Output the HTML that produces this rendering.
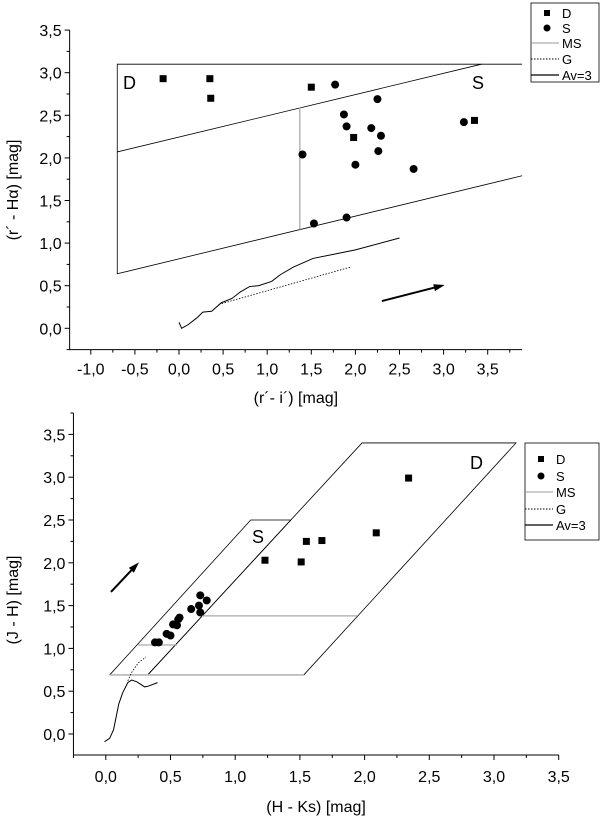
<!DOCTYPE html>
<html><head><meta charset="utf-8">
<style>
body{margin:0;background:#fff;}
svg{display:block;font-family:"Liberation Sans",sans-serif;}
</style></head>
<body>
<svg id="fig" width="600" height="818" viewBox="0 0 600 818"></svg>
<script>
// ---- top chart data ----
const topXTicks = [-1.0,-0.5,0.0,0.5,1.0,1.5,2.0,2.5,3.0,3.5];
const topYTicks = [0.0,0.5,1.0,1.5,2.0,2.5,3.0,3.5];
const topDX = [-0.18,0.35,0.36,1.5,1.98,3.35];
const topDY = [2.93,2.93,2.7,2.83,2.24,2.44];
const topSX = [1.77,1.87,1.9,2.25,2.18,2.29,1.4,2.26,2.0,2.66,3.23,1.53,1.9];
const topSY = [2.86,2.51,2.37,2.69,2.35,2.26,2.04,2.08,1.92,1.87,2.42,1.23,1.3];
const topAvX = [0,0.03,0.1,0.2,0.27,0.37,0.48,0.6,0.7,0.8,0.9,1.05,1.15,1.3,1.52,2.0,2.5];
const topAvY = [0.07,0.0,0.04,0.12,0.19,0.2,0.3,0.35,0.43,0.49,0.5,0.55,0.63,0.72,0.82,0.92,1.06];
const topGX = [0.45,1.95];
const topGY = [0.28,0.72];
// ---- bottom chart data ----
const botXTicks = [0.0,0.5,1.0,1.5,2.0,2.5,3.0,3.5];
const botYTicks = [0.0,0.5,1.0,1.5,2.0,2.5,3.0,3.5];
const botDX = [1.23,1.51,1.55,1.67,2.09,2.34];
const botDY = [2.03,2.01,2.25,2.26,2.35,2.99];
const botSX = [0.38,0.41,0.47,0.5,0.52,0.55,0.57,0.56,0.66,0.72,0.73,0.73,0.78];
const botSY = [1.07,1.07,1.17,1.15,1.28,1.27,1.36,1.34,1.46,1.5,1.62,1.42,1.56];
const botAvX = [-0.01,0.03,0.06,0.08,0.1,0.13,0.17,0.2,0.24,0.3,0.33,0.4];
const botAvY = [-0.09,-0.05,0.05,0.2,0.35,0.48,0.6,0.63,0.61,0.55,0.56,0.6];
const botGX = [0.17,0.2,0.25,0.31];
const botGY = [0.62,0.72,0.83,0.9];

const NS="http://www.w3.org/2000/svg";
const svg=document.getElementById('fig');
function mk(tag,attrs,parent){const e=document.createElementNS(NS,tag);for(const k in attrs)e.setAttribute(k,attrs[k]);(parent||svg).appendChild(e);return e;}
function fmt(v){return v.toFixed(1).replace('.',',');}

function chart(o){
  const g=mk('g',{});
  
  
  const X=v=>o.x0px+(v-o.x0v)*o.xs, Y=v=>o.y0px-(v-o.y0v)*o.ys;
  const axL=X(o.xmin), axB=Y(o.ymin), axR=X(o.xmax), axT=Y(o.ymax);
  const ax=mk('g',{stroke:'#000','stroke-width':1},g);
  
  
  mk('line',{x1:axL,y1:axB,x2:axR,y2:axB},ax);
  mk('line',{x1:axL,y1:axB,x2:axL,y2:axT},ax);
  for(let v=Math.ceil(o.xmin*4)/4;v<=o.xmax+1e-6;v+=0.25){const maj=Math.abs(v*2-Math.round(v*2))<1e-6;mk('line',{x1:X(v),x2:X(v),y1:axB,y2:axB+(maj?5:3)},ax);}
  for(let v=Math.ceil(o.ymin*4)/4;v<=o.ymax+1e-6;v+=0.25){const maj=Math.abs(v*2-Math.round(v*2))<1e-6;mk('line',{y1:Y(v),y2:Y(v),x1:axL,x2:axL-(maj?5:3)},ax);}
  o.xt.forEach(v=>{const t=mk('text',{x:X(v),y:axB+o.xlOff,'font-size':16,'text-anchor':'middle'},g);t.textContent=fmt(v);});
  o.yt.forEach(v=>{const t=mk('text',{x:axL-8,y:Y(v)+6,'font-size':16,'text-anchor':'end'},g);t.textContent=fmt(v);});
  const xt=mk('text',{x:(axL+axR)/2,y:o.xtitleY,'font-size':16,'text-anchor':'middle'},g);xt.textContent=o.xtitle;
  
  const yt=mk('text',{x:0,y:0,'font-size':16,'text-anchor':'middle',transform:`translate(18,${o.ytitleY}) rotate(-90)`},g);yt.textContent=o.ytitle;
  
  o.lines.forEach(l=>{const e=mk('polyline',{points:l.p.map(q=>X(q[0])+','+Y(q[1])).join(' '),fill:'none',stroke:l.c||'#000','stroke-width':l.w||0.8},g);});
  const av=mk('polyline',{points:o.avX.map((v,i)=>X(v)+','+Y(o.avY[i])).join(' '),fill:'none',stroke:'#000','stroke-width':1},g);
  
  const gg=mk('polyline',{points:o.gX.map((v,i)=>X(v)+','+Y(o.gY[i])).join(' '),fill:'none',stroke:'#000','stroke-width':0.8,'stroke-dasharray':'1.5,1.5'},g);
  
  const a=o.arrow, ax1=X(a[0]),ay1=Y(a[1]),ax2=X(a[2]),ay2=Y(a[3]);
  const ar=mk('line',{x1:ax1,y1:ay1,x2:ax2,y2:ay2,stroke:'#000','stroke-width':2},g);
  
  const ang=Math.atan2(ay2-ay1,ax2-ax1);
  const hp=[[ax2+3*Math.cos(ang),ay2+3*Math.sin(ang)],[ax2-8*Math.cos(ang)+3.5*Math.sin(ang),ay2-8*Math.sin(ang)-3.5*Math.cos(ang)],[ax2-8*Math.cos(ang)-3.5*Math.sin(ang),ay2-8*Math.sin(ang)+3.5*Math.cos(ang)]];
  const ah=mk('polygon',{points:hp.map(p=>p.join(',')).join(' '),fill:'#000'},g);
  
  o.dX.forEach((v,i)=>{const r=mk('rect',{x:X(v)-3.5,y:Y(o.dY[i])-3.5,width:7,height:7,fill:'#000'},g);});
  o.sX.forEach((v,i)=>{const c=mk('circle',{cx:X(v),cy:Y(o.sY[i]),r:4,fill:'#000'},g);});
  o.labels.forEach(l=>{const t=mk('text',{x:l[0],y:l[1],'font-size':18},g);t.textContent=l[2];});
  const L=o.leg;
  const lg=mk('g',{},g);
  mk('rect',{x:L.x,y:L.y,width:L.w,height:L.h,fill:'#fff',stroke:'#000','stroke-width':0.8},lg);
  const names=['D','S','MS','G','Av=3'];
  names.forEach((n,i)=>{const yy=L.ys[i];
    const e=mk('g',{},lg);
    if(i==0)mk('rect',{x:L.x+13,y:yy-3,width:6,height:6,fill:'#000'},e);
    else if(i==1)mk('circle',{cx:L.x+16,cy:yy,r:3.5,fill:'#000'},e);
    else mk('line',{x1:L.x,x2:L.x+28,y1:yy,y2:yy,stroke:i==2?'#999':'#000','stroke-width':i==4?1.3:1,'stroke-dasharray':i==3?'1.5,1.5':'none'},e);
    const t=mk('text',{x:L.x+31,y:yy+5,'font-size':13},e);t.textContent=n;});
}

chart({name:'top-chart',x0px:179.0,x0v:0,xs:88.2,y0px:328.3,y0v:0,ys:85.2,
  xmin:-1.24,xmax:3.89,ymin:-0.25,ymax:3.5,xt:topXTicks,yt:topYTicks,xlOff:25,
  xtitle:"(r\u00b4- i\u00b4) [mag]",xtitleY:403,ytitle:"(r\u00b4 - H\u03b1) [mag]",ytitleY:190,
  lines:[{n:'region-box',p:[[3.89,3.1],[-0.7,3.1],[-0.7,0.64],[3.89,1.79]]},
         {n:'upper-boundary',p:[[-0.7,2.07],[3.43,3.1]]},
         {n:'ms-line',p:[[1.37,2.59],[1.37,1.16]],c:'#aaa',w:1.3}],
  avX:topAvX,avY:topAvY,gX:topGX,gY:topGY,arrow:[2.3,0.32,2.98,0.5],
  dX:topDX,dY:topDY,sX:topSX,sY:topSY,labels:[[123,89,'D'],[472,89,'S']],
  leg:{x:531,y:3,w:68,h:79,ys:[13,28,43,59,75]}});

chart({name:'bottom-chart',x0px:105.8,x0v:0,xs:129.4,y0px:734,y0v:0,ys:85.6,
  xmin:-0.25,xmax:3.5,ymin:-0.245,ymax:3.75,xt:botXTicks,yt:botYTicks,xlOff:27,
  xtitle:"(H - Ks) [mag]",xtitleY:812,ytitle:"(J - H) [mag]",ytitleY:600,
  lines:[{n:'d-region',p:[[0.33,0.7],[1.98,3.4],[3.17,3.4],[1.53,0.69]]},
         {n:'s-region',p:[[0.03,0.69],[1.12,2.5],[1.43,2.5]]},
         {n:'s-region-right',p:[[1.43,2.5],[0.33,0.7]]},
         {n:'ms-bottom',p:[[0.03,0.69],[1.53,0.69]],c:'#aaa',w:1.3},
         {n:'ms-upper',p:[[0.74,1.38],[1.94,1.38]],c:'#aaa',w:1.3},
         {n:'ms-small',p:[[0.25,1.04],[0.55,1.04]],c:'#aaa',w:1.3}],
  avX:botAvX,avY:botAvY,gX:botGX,gY:botGY,arrow:[0.04,1.66,0.24,1.98],
  dX:botDX,dY:botDY,sX:botSX,sY:botSY,labels:[[252,543,'S'],[470,469,'D']],
  leg:{x:525,y:443,w:74,h:97,ys:[459,476,492,509,525]}});
</script>
</body></html>
